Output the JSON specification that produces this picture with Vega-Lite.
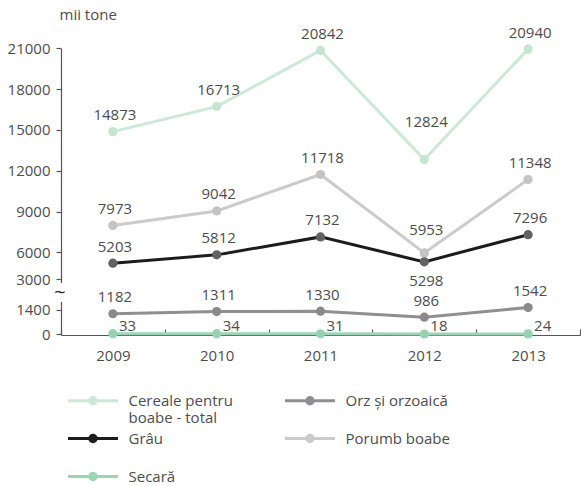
{
  "$schema": "https://vega.github.io/schema/vega-lite/v6.json",
  "width": 519,
  "height": 287,
  "autosize": {"type": "none"},
  "padding": {"left": 61, "top": 48, "right": 1, "bottom": 151},
  "background": "white",
  "config": {
    "view": {"stroke": null},
    "font": "Open Sans",
    "axis": {"labelFont": "Open Sans", "labelFontSize": 15, "labelColor": "#4d4d4d", "grid": false, "domainColor": "#555555", "tickColor": "#555555", "domainWidth": 1.2, "tickWidth": 1.2}
  },
  "data": {"values": [
    {"year": "2009", "series": "Porumb boabe", "value": 7973},
    {"year": "2010", "series": "Porumb boabe", "value": 9042},
    {"year": "2011", "series": "Porumb boabe", "value": 11718},
    {"year": "2012", "series": "Porumb boabe", "value": 5953},
    {"year": "2013", "series": "Porumb boabe", "value": 11348},
    {"year": "2009", "series": "Cereale pentru boabe - total", "value": 14873},
    {"year": "2010", "series": "Cereale pentru boabe - total", "value": 16713},
    {"year": "2011", "series": "Cereale pentru boabe - total", "value": 20842},
    {"year": "2012", "series": "Cereale pentru boabe - total", "value": 12824},
    {"year": "2013", "series": "Cereale pentru boabe - total", "value": 20940},
    {"year": "2009", "series": "Orz și orzoaică", "value": 1182},
    {"year": "2010", "series": "Orz și orzoaică", "value": 1311},
    {"year": "2011", "series": "Orz și orzoaică", "value": 1330},
    {"year": "2012", "series": "Orz și orzoaică", "value": 986},
    {"year": "2013", "series": "Orz și orzoaică", "value": 1542},
    {"year": "2009", "series": "Secară", "value": 33},
    {"year": "2010", "series": "Secară", "value": 34},
    {"year": "2011", "series": "Secară", "value": 31},
    {"year": "2012", "series": "Secară", "value": 18},
    {"year": "2013", "series": "Secară", "value": 24},
    {"year": "2009", "series": "Grâu", "value": 5203},
    {"year": "2010", "series": "Grâu", "value": 5812},
    {"year": "2011", "series": "Grâu", "value": 7132},
    {"year": "2012", "series": "Grâu", "value": 5298},
    {"year": "2013", "series": "Grâu", "value": 7296}
  ]},
  "encoding": {
    "x": {"field": "year", "type": "ordinal", "scale": {"type": "band", "paddingInner": 0, "paddingOuter": 0},
      "axis": {"title": null, "labelAngle": 0, "tickBand": "extent", "tickSize": -6, "labelPadding": 19, "domain": true}},
    "y": {"field": "value", "type": "quantitative",
      "scale": {"domain": [0, 1600, 3000, 5000, 21000], "range": [286.3, 258.5, 231.3, 217.9, 0.3], "nice": false, "zero": false},
      "axis": {"values": [0, 1400, 3000, 6000, 9000, 12000, 15000, 18000, 21000], "format": "d", "domain": true, "tickSize": 5, "offset": 0, "labelPadding": 6,
        "title": "mii tone", "titleAngle": 0, "titleX": -2, "titleY": -34, "titleAlign": "left", "titleBaseline": "middle", "titleFont": "Open Sans", "titleFontSize": 15, "titleFontWeight": "normal", "titleColor": "#4d4d4d"}}
  },
  "layer": [
    {
      "transform": [{"filter": "datum.year == '2009' && datum.series == 'Secară'"}],
      "mark": {"type": "text", "text": "█", "fontSize": 16, "color": "white", "align": "center", "baseline": "middle", "dx": -51.9, "font": "DejaVu Sans"},
      "encoding": {"x": {"field": "year", "type": "ordinal"}, "y": {"datum": 2300}}
    },
    {
      "transform": [{"filter": "datum.year == '2009' && datum.series == 'Secară'"}],
      "mark": {"type": "text", "text": "~", "fontSize": 20, "color": "#222222", "align": "center", "baseline": "middle", "dx": -53, "font": "Open Sans"},
      "encoding": {"x": {"field": "year", "type": "ordinal"}, "y": {"datum": 2300}}
    },
    {
      "mark": {"type": "line", "strokeWidth": 3},
      "encoding": {
        "stroke": {"field": "series", "type": "nominal",
          "scale": {"domain": ["Cereale pentru boabe - total", "Grâu", "Secară", "Orz și orzoaică", "Porumb boabe"], "range": ["#cde8d7", "#1c1c1c", "#9bd5b5", "#8f8f91", "#cbcbcb"]},
          "legend": {"title": null, "orient": "none", "legendX": 6, "legendY": 345, "columns": 2, "columnPadding": 46, "rowPadding": 3, "gridAlign": "all", "padding": 0,
            "symbolType": "M-5,0H5M0.65,0A0.65,0.65,0,1,1,-0.65,0A0.65,0.65,0,1,1,0.65,0Z", "symbolSize": 100, "symbolStrokeWidth": 3, "symbolOffset": 18.5,
            "labelFont": "Open Sans", "labelFontSize": 15, "labelColor": "#4d4d4d", "labelOffset": 28, "labelLimit": 300,
            "labelExpr": "datum.label == 'Cereale pentru boabe - total' ? ['Cereale pentru', 'boabe - total'] : [datum.label, ' ']"}}
      }
    },
    {
      "mark": {"type": "circle", "size": 85, "opacity": 1},
      "encoding": {
        "fill": {"field": "series", "type": "nominal",
          "scale": {"domain": ["Cereale pentru boabe - total", "Grâu", "Secară", "Orz și orzoaică", "Porumb boabe"], "range": ["#c6e5d1", "#626266", "#95d2b0", "#8a8a8c", "#c4c4c4"]},
          "legend": {"title": null, "orient": "none", "legendX": 6, "legendY": 345, "columns": 2, "columnPadding": 46, "rowPadding": 3, "gridAlign": "all", "padding": 0,
            "symbolType": "M-5,0H5M0.65,0A0.65,0.65,0,1,1,-0.65,0A0.65,0.65,0,1,1,0.65,0Z", "symbolSize": 100, "symbolStrokeWidth": 3, "symbolOffset": 18.5,
            "labelFont": "Open Sans", "labelFontSize": 15, "labelColor": "#4d4d4d", "labelOffset": 28, "labelLimit": 300,
            "labelExpr": "datum.label == 'Cereale pentru boabe - total' ? ['Cereale pentru', 'boabe - total'] : [datum.label, ' ']"}}
      }
    },
    {
      "transform": [{"filter": "datum.series != 'Secară' && !(datum.year == '2012' && (datum.series == 'Grâu' || datum.series == 'Porumb boabe' || datum.series == 'Cereale pentru boabe - total'))"}],
      "mark": {"type": "text", "font": "Open Sans", "fontSize": 15, "color": "#4d4d4d", "align": "center", "baseline": "alphabetic", "dx": 2, "dy": -11.5},
      "encoding": {"text": {"field": "value", "type": "quantitative", "format": "d"}}
    },
    {
      "transform": [{"filter": "datum.year == '2012' && datum.series == 'Cereale pentru boabe - total'"}],
      "mark": {"type": "text", "font": "Open Sans", "fontSize": 15, "color": "#4d4d4d", "align": "center", "baseline": "alphabetic", "dx": 2, "dy": -32},
      "encoding": {"text": {"field": "value", "type": "quantitative", "format": "d"}}
    },
    {
      "transform": [{"filter": "datum.year == '2012' && datum.series == 'Porumb boabe'"}],
      "mark": {"type": "text", "font": "Open Sans", "fontSize": 15, "color": "#4d4d4d", "align": "center", "baseline": "alphabetic", "dx": 2, "dy": -17.5},
      "encoding": {"text": {"field": "value", "type": "quantitative", "format": "d"}}
    },
    {
      "transform": [{"filter": "datum.year == '2012' && datum.series == 'Grâu'"}],
      "mark": {"type": "text", "font": "Open Sans", "fontSize": 15, "color": "#4d4d4d", "align": "center", "baseline": "alphabetic", "dx": 2, "dy": 24},
      "encoding": {"text": {"field": "value", "type": "quantitative", "format": "d"}}
    },
    {
      "transform": [{"filter": "datum.series == 'Secară'"}],
      "mark": {"type": "text", "font": "Open Sans", "fontSize": 15, "color": "#4d4d4d", "align": "left", "baseline": "alphabetic", "dx": 6, "dy": -2.5},
      "encoding": {"text": {"field": "value", "type": "quantitative", "format": "d"}}
    }
  ]
}
